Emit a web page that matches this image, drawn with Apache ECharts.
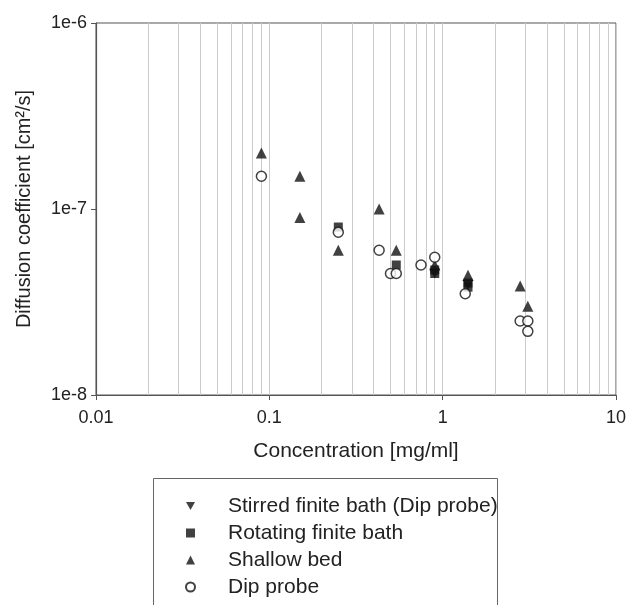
<!DOCTYPE html>
<html>
<head>
<meta charset="utf-8">
<style>
  html, body { margin: 0; padding: 0; background: #fff; }
  #chart { width: 629px; height: 605px; }
</style>
<script src="https://cdn.jsdelivr.net/npm/echarts@6/dist/echarts.min.js"></script>
</head>
<body>
<div id="chart"></div>
<script>
// Diffusion coefficient [cm^2/s] vs. concentration [mg/ml], pairs of [x, y]
const stirredFiniteBath = [[0.9, 4.5e-8], [1.4, 3.9e-8]];
const rotatingFiniteBath = [[0.25, 8.0e-8], [0.54, 5.0e-8], [0.9, 4.7e-8], [0.9, 4.5e-8], [1.4, 4.0e-8], [1.4, 3.8e-8]];
const shallowBed = [[0.09, 2.0e-7], [0.15, 1.5e-7], [0.15, 9.0e-8], [0.25, 6.0e-8], [0.43, 1.0e-7],
                    [0.54, 6.0e-8], [0.9, 5.0e-8], [1.4, 4.4e-8], [2.8, 3.85e-8], [3.1, 3.0e-8]];
const dipProbe = [[0.09, 1.5e-7], [0.25, 7.5e-8], [0.43, 6.0e-8], [0.5, 4.5e-8], [0.54, 4.5e-8],
                  [0.75, 5.0e-8], [0.9, 5.5e-8], [1.35, 3.5e-8], [2.8, 2.5e-8], [3.1, 2.5e-8], [3.1, 2.2e-8]];

const seriesNames = ['Stirred finite bath (Dip probe)', 'Rotating finite bath', 'Shallow bed', 'Dip probe'];

// minor vertical grid positions (2..9 within each decade)
const minorGrid = [];
[0.01, 0.1, 1].forEach(function (d) {
  for (let k = 2; k <= 9; k++) minorGrid.push(+(d * k).toPrecision(3));
});

const FONT = '"Liberation Sans", Arial, Helvetica, sans-serif';
const DOWN_TRIANGLE = 'path://M0,0L20,0L10,18Z';
const chart = echarts.init(document.getElementById('chart'), null, { renderer: 'canvas' });

const option = {
  backgroundColor: '#ffffff',
  animation: false,
  textStyle: { fontFamily: FONT },
  grid: {
    left: 96, right: 12, top: 23, bottom: 210,
    show: true, borderColor: '#555', borderWidth: 1, backgroundColor: 'transparent'
  },
  xAxis: {
    type: 'log', logBase: 10, min: 0.01, max: 10,
    name: 'Concentration [mg/ml]', nameLocation: 'middle', nameGap: 46,
    nameTextStyle: { fontSize: 21, color: '#222', fontFamily: FONT },
    axisLine: { show: true, lineStyle: { color: '#555', width: 1.2 } },
    axisTick: { show: true, inside: false, length: 5, lineStyle: { color: '#555' } },
    axisLabel: { fontSize: 18, color: '#222', margin: 14, fontFamily: FONT },
    splitLine: { show: true, lineStyle: { color: '#cccccc', width: 1 } },
    minorTick: { show: false }
  },
  yAxis: {
    type: 'log', logBase: 10, min: 1e-8, max: 1e-6,
    name: 'Diffusion coefficient [cm²/s]', nameLocation: 'middle', nameGap: 62,
    nameTextStyle: { fontSize: 20, color: '#222', fontFamily: FONT },
    axisLine: { show: true, lineStyle: { color: '#555', width: 1.2 } },
    axisTick: { show: true, inside: false, length: 5, lineStyle: { color: '#555' } },
    axisLabel: {
      fontSize: 18, color: '#222', margin: 9, fontFamily: FONT,
      formatter: function (v) { return '1e' + Math.round(Math.log10(v)); }
    },
    splitLine: { show: false }
  },
  legend: {
    orient: 'vertical', left: 180, top: 489, height: 130,
    itemWidth: 9, itemHeight: 9, itemGap: 3,
    data: seriesNames,
    textStyle: { fontSize: 21, color: '#222', lineHeight: 24, fontFamily: FONT, padding: [0, 0, 0, 28] }
  },
  graphic: [{
    type: 'rect', left: 153, top: 478, silent: true,
    shape: { width: 344, height: 150 },
    style: { fill: 'transparent', stroke: '#666', lineWidth: 1 }
  }],
  series: [
    {
      name: seriesNames[0], type: 'scatter', data: stirredFiniteBath,
      symbol: DOWN_TRIANGLE, symbolSize: [11, 10],
      itemStyle: { color: '#111' }, z: 3,
      markLine: {
        silent: true, symbol: 'none', label: { show: false }, animation: false, z: 1,
        lineStyle: { color: '#cccccc', width: 1, type: 'solid' },
        data: minorGrid.map(function (v) { return { xAxis: v }; })
      }
    },
    {
      name: seriesNames[1], type: 'scatter', data: rotatingFiniteBath,
      symbol: 'rect', symbolSize: 9,
      itemStyle: { color: '#111' }, z: 3
    },
    {
      name: seriesNames[2], type: 'scatter', data: shallowBed,
      symbol: 'triangle', symbolSize: 11,
      itemStyle: { color: '#111' }, z: 4
    },
    {
      name: seriesNames[3], type: 'scatter', data: dipProbe,
      symbol: 'circle', symbolSize: 10,
      itemStyle: { color: '#ffffff', borderColor: '#111', borderWidth: 1.5 }, z: 5
    }
  ]
};

chart.setOption(option);
</script>
</body>
</html>
